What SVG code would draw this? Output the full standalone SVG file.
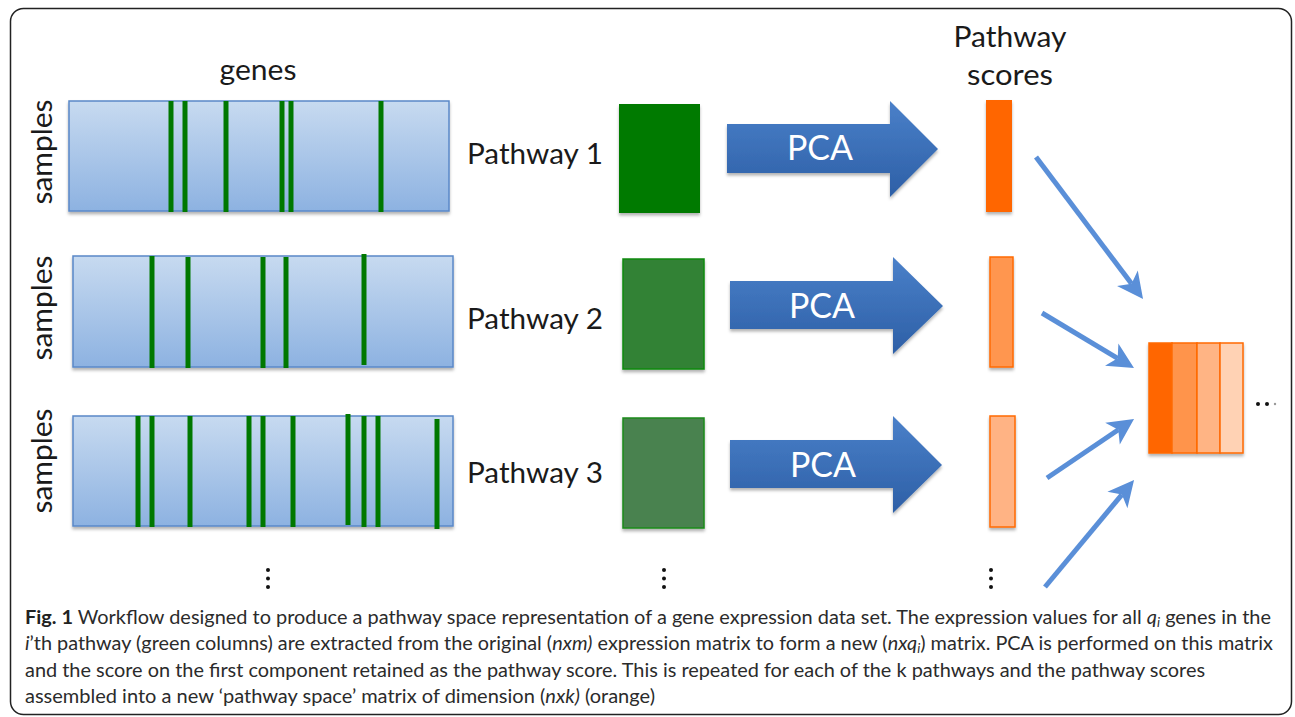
<svg xmlns="http://www.w3.org/2000/svg" width="1295" height="717" viewBox="0 0 1295 717">
<style>
.lbl{font-family:Lato,"Open Sans","Liberation Sans",sans-serif;font-size:29px;fill:#1a1a1a}
.pca{font-family:Lato,"Open Sans","Liberation Sans",sans-serif;font-size:35px;fill:#ffffff;text-anchor:middle}
.cap{font-family:Lato,"Open Sans","Liberation Sans",sans-serif;font-size:19.5px;fill:#2b2b2b}
.mat{fill:url(#matGrad);stroke:#5a88c8;stroke-width:1.5}
.gl{stroke:#007800;stroke-width:5}
.conn{stroke:#5a8fd8;stroke-width:5;fill:none;marker-end:url(#head)}
.dot{fill:#111}
</style>
<defs>
<linearGradient id="matGrad" x1="0" y1="0" x2="0" y2="1">
<stop offset="0" stop-color="#c7daf0"/>
<stop offset="1" stop-color="#8db2e1"/>
</linearGradient>
<linearGradient id="pcaGrad" x1="0" y1="0" x2="0" y2="1">
<stop offset="0" stop-color="#4a80c9"/>
<stop offset="1" stop-color="#2d5fa6"/>
</linearGradient>
<filter id="sh" x="-10%" y="-10%" width="120%" height="130%">
<feDropShadow dx="0" dy="2.5" stdDeviation="1.5" flood-color="#000" flood-opacity="0.3"/>
</filter>
<marker id="head" markerUnits="userSpaceOnUse" markerWidth="30" markerHeight="30" refX="7" refY="0" orient="auto" overflow="visible">
<path d="M26,0 L0,-13 L7,0 L0,13 Z" fill="#5a8fd8"/>
</marker>
</defs>

<rect x="10.5" y="8.5" width="1281" height="706" rx="13" fill="#fff" stroke="#222" stroke-width="1.5"/>

<g id="header-genes"><text class="lbl" x="258" y="80" text-anchor="middle" textLength="77" lengthAdjust="spacingAndGlyphs">genes</text></g>
<g id="header-scores">
<text class="lbl" x="1010" y="47" text-anchor="middle" textLength="113" lengthAdjust="spacingAndGlyphs">Pathway</text>
<text class="lbl" x="1010" y="85" text-anchor="middle" textLength="86" lengthAdjust="spacingAndGlyphs">scores</text>
</g>

<g id="matrix1">
<text class="lbl" transform="translate(52,152) rotate(-90)" text-anchor="middle" textLength="105" lengthAdjust="spacingAndGlyphs">samples</text>
<rect class="mat" x="69" y="101" width="380" height="110" filter="url(#sh)"/>
<g class="gl"><line x1="171" y1="101" x2="171" y2="212"/><line x1="185" y1="101" x2="185" y2="212"/><line x1="226" y1="101" x2="226" y2="212"/><line x1="282" y1="101" x2="282" y2="212"/><line x1="291" y1="101" x2="291" y2="212"/><line x1="381" y1="101" x2="381" y2="212"/></g>
</g>
<g id="matrix2">
<text class="lbl" transform="translate(52,308) rotate(-90)" text-anchor="middle" textLength="105" lengthAdjust="spacingAndGlyphs">samples</text>
<rect class="mat" x="73" y="256" width="380" height="111" filter="url(#sh)"/>
<g class="gl"><line x1="152" y1="256" x2="152" y2="368"/><line x1="188" y1="257" x2="188" y2="368"/><line x1="263" y1="257" x2="263" y2="368"/><line x1="286" y1="257" x2="286" y2="368"/><line x1="364" y1="254" x2="364" y2="365"/></g>
</g>
<g id="matrix3">
<text class="lbl" transform="translate(52,461) rotate(-90)" text-anchor="middle" textLength="105" lengthAdjust="spacingAndGlyphs">samples</text>
<rect class="mat" x="73" y="416" width="380" height="110" filter="url(#sh)"/>
<g class="gl"><line x1="138" y1="416" x2="138" y2="527"/><line x1="152" y1="416" x2="152" y2="527"/><line x1="190" y1="416" x2="190" y2="527"/><line x1="249" y1="416" x2="249" y2="527"/><line x1="263" y1="416" x2="263" y2="527"/><line x1="293" y1="416" x2="293" y2="527"/><line x1="348" y1="414" x2="348" y2="525"/><line x1="364" y1="416" x2="364" y2="527"/><line x1="378" y1="416" x2="378" y2="527"/><line x1="437" y1="419" x2="437" y2="529"/></g>
</g>

<g id="pathway1">
<text class="lbl" x="467" y="164" textLength="136" lengthAdjust="spacingAndGlyphs">Pathway 1</text>
<rect x="619" y="104" width="81" height="109" fill="#007a00" filter="url(#sh)"/>
</g>
<g id="pathway2">
<text class="lbl" x="467" y="329" textLength="136" lengthAdjust="spacingAndGlyphs">Pathway 2</text>
<rect x="623" y="259" width="81" height="110" fill="#338236" stroke="#0a8a0a" stroke-width="1.5" filter="url(#sh)"/>
</g>
<g id="pathway3">
<text class="lbl" x="467" y="483" textLength="136" lengthAdjust="spacingAndGlyphs">Pathway 3</text>
<rect x="623" y="418" width="81" height="110" fill="#4a8250" stroke="#1a8a1a" stroke-width="1.5" filter="url(#sh)"/>
</g>

<g id="pca1">
<path d="M727,124 H890 V101 L938,149 L890,197 V173 H727 Z" fill="url(#pcaGrad)" filter="url(#sh)"/>
<text class="pca" x="820" y="160" textLength="66" lengthAdjust="spacingAndGlyphs">PCA</text>
</g>
<g id="pca2">
<path d="M730,281 H893 V257 L943,306 L893,354 V329 H730 Z" fill="url(#pcaGrad)" filter="url(#sh)"/>
<text class="pca" x="822" y="318" textLength="66" lengthAdjust="spacingAndGlyphs">PCA</text>
</g>
<g id="pca3">
<path d="M730,440 H893 V416 L942,465 L893,513 V488 H730 Z" fill="url(#pcaGrad)" filter="url(#sh)"/>
<text class="pca" x="823" y="477" textLength="66" lengthAdjust="spacingAndGlyphs">PCA</text>
</g>

<g id="score1"><rect x="986" y="100" width="26" height="112" fill="#ff6600" filter="url(#sh)"/></g>
<g id="score2"><rect x="990" y="257" width="23" height="110" fill="#ff9650" stroke="#ff6a00" stroke-width="1.5" filter="url(#sh)"/></g>
<g id="score3"><rect x="990" y="416" width="25" height="111" fill="#ffb384" stroke="#ff6a00" stroke-width="1.5" filter="url(#sh)"/></g>

<g id="space-matrix" filter="url(#sh)">
<rect x="1149" y="343" width="23" height="110" fill="#ff6600" stroke="#ff6a00" stroke-width="1.5"/>
<rect x="1172" y="343" width="25" height="110" fill="#ff944c" stroke="#ff6a00" stroke-width="1.5"/>
<rect x="1197" y="343" width="23" height="110" fill="#ffb484" stroke="#ff6a00" stroke-width="1.5"/>
<rect x="1220" y="343" width="23" height="110" fill="#ffd2b4" stroke="#ff6a00" stroke-width="1.5"/>
</g>

<g id="connectors">
<line class="conn" x1="1036" y1="157" x2="1131.6" y2="283.8"/>
<line class="conn" x1="1042" y1="313" x2="1117.7" y2="358.3"/>
<line class="conn" x1="1047" y1="478" x2="1118.3" y2="429.7"/>
<line class="conn" x1="1045" y1="587" x2="1121.9" y2="494.6"/>
</g>

<g id="ellipses">
<circle class="dot" cx="268" cy="570" r="2"/><circle class="dot" cx="268" cy="578.5" r="2"/><circle class="dot" cx="268" cy="587" r="2"/>
<circle class="dot" cx="664" cy="570" r="2"/><circle class="dot" cx="664" cy="578.5" r="2"/><circle class="dot" cx="664" cy="587" r="2"/>
<circle class="dot" cx="991" cy="570" r="2"/><circle class="dot" cx="991" cy="578.5" r="2"/><circle class="dot" cx="991" cy="587" r="2"/>
<circle class="dot" cx="1258" cy="404" r="2"/><circle class="dot" cx="1267" cy="404" r="2"/><circle cx="1275" cy="404" r="1.2" fill="#999"/>
</g>

<g id="caption">
<text class="cap" x="25" y="624" textLength="1246" lengthAdjust="spacingAndGlyphs"><tspan font-weight="bold" fill="#222">Fig. 1</tspan> Workflow designed to produce a pathway space representation of a gene expression data set. The expression values for all <tspan font-style="italic">q</tspan><tspan font-style="italic" font-size="13" dy="3">i</tspan><tspan dy="-3"> genes in the</tspan></text>
<text class="cap" x="25" y="650" textLength="1248" lengthAdjust="spacingAndGlyphs"><tspan font-style="italic">i</tspan>’th pathway (green columns) are extracted from the original (<tspan font-style="italic">nxm)</tspan> expression matrix to form a new (<tspan font-style="italic">nxq</tspan><tspan font-style="italic" font-size="13" dy="3">i</tspan><tspan dy="-3">) matrix. PCA is performed on this matrix</tspan></text>
<text class="cap" x="25" y="677" textLength="1180" lengthAdjust="spacingAndGlyphs">and the score on the first component retained as the pathway score. This is repeated for each of the k pathways and the pathway scores</text>
<text class="cap" x="25" y="703" textLength="630" lengthAdjust="spacingAndGlyphs">assembled into a new ‘pathway space’ matrix of dimension (<tspan font-style="italic">nxk)</tspan> (orange)</text>
</g>
</svg>
